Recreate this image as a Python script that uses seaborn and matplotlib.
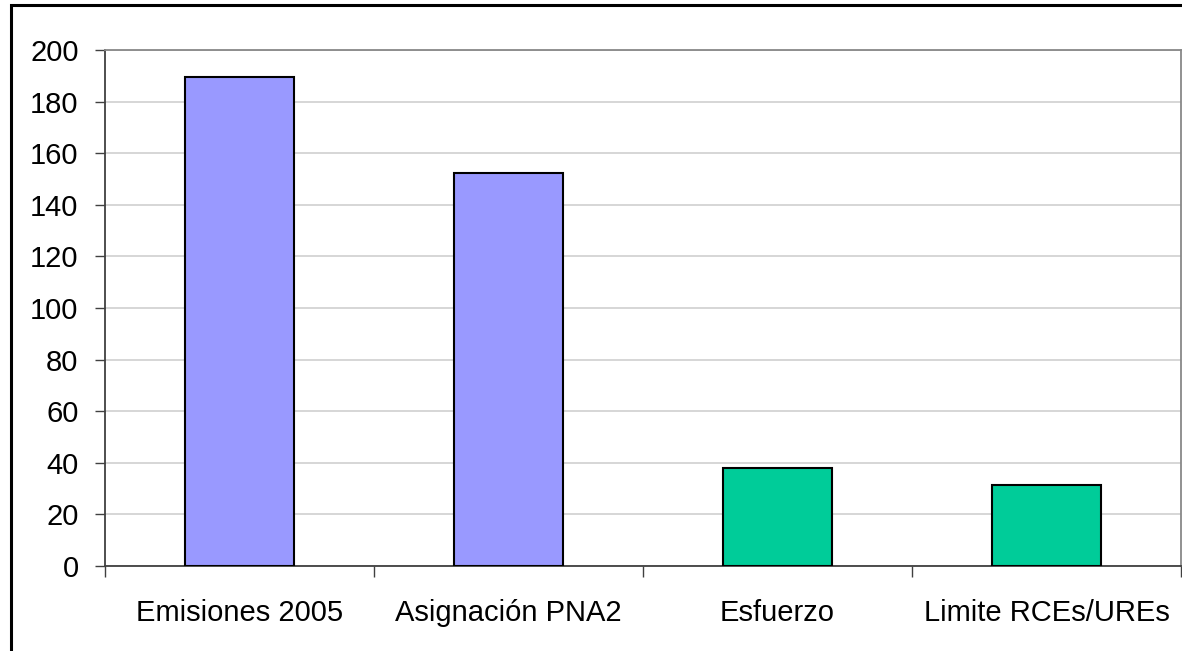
import numpy as np
import pandas as pd
import seaborn as sns
import matplotlib.pyplot as plt
from matplotlib.patches import Rectangle

# data
categories = ['Emisiones 2005', 'Asignación PNA2', 'Esfuerzo', 'Limite RCEs/UREs']
values = [189.5, 152.2, 38.0, 31.4]
bar_colors = ['#9999FF', '#9999FF', '#00CC99', '#00CC99']

df = pd.DataFrame({'cat': categories, 'val': values})

sns.set_style('white')
plt.rcParams['font.family'] = ['Liberation Sans', 'DejaVu Sans']

fig = plt.figure(figsize=(11.82, 6.51), dpi=100)
ax = fig.add_axes([105/1182, 85/651, 1076/1182, 516/651])

sns.barplot(data=df, x='cat', y='val', hue='cat', palette=bar_colors, legend=False,
            width=0.405, saturation=1, edgecolor='black', linewidth=1.5, ax=ax, zorder=3)

ax.set_ylim(0, 200)
ax.set_xlim(-0.5, 3.5)
ax.set_yticks(np.arange(0, 201, 20))
ax.yaxis.grid(True, color='#D0D0D0', linewidth=1.2, zorder=0)
ax.set_axisbelow(True)

ax.set_xlabel('')
ax.set_ylabel('')
ax.tick_params(axis='y', labelsize=21, labelcolor='black', length=7, width=1,
               color='#404040', pad=12, left=True)
ax.tick_params(axis='x', which='major', labelsize=21, labelcolor='black', length=0, pad=24)
ax.set_xticks(np.arange(-0.5, 3.6, 1), minor=True)
ax.tick_params(axis='x', which='minor', length=8, width=1, color='#404040', bottom=True)

for s in ['left', 'bottom']:
    ax.spines[s].set_color('#404040')
    ax.spines[s].set_linewidth(1.3)
for s in ['top', 'right']:
    ax.spines[s].set_color('#888888')
    ax.spines[s].set_linewidth(1.3)

# outer chart frame (cut at right and bottom)
fig.patches.append(Rectangle((11/1182, -0.05), 1.2, (651-5)/651 + 0.05,
                             transform=fig.transFigure, fill=False,
                             edgecolor='black', linewidth=2.2))

fig.savefig('out.png', dpi=100)
